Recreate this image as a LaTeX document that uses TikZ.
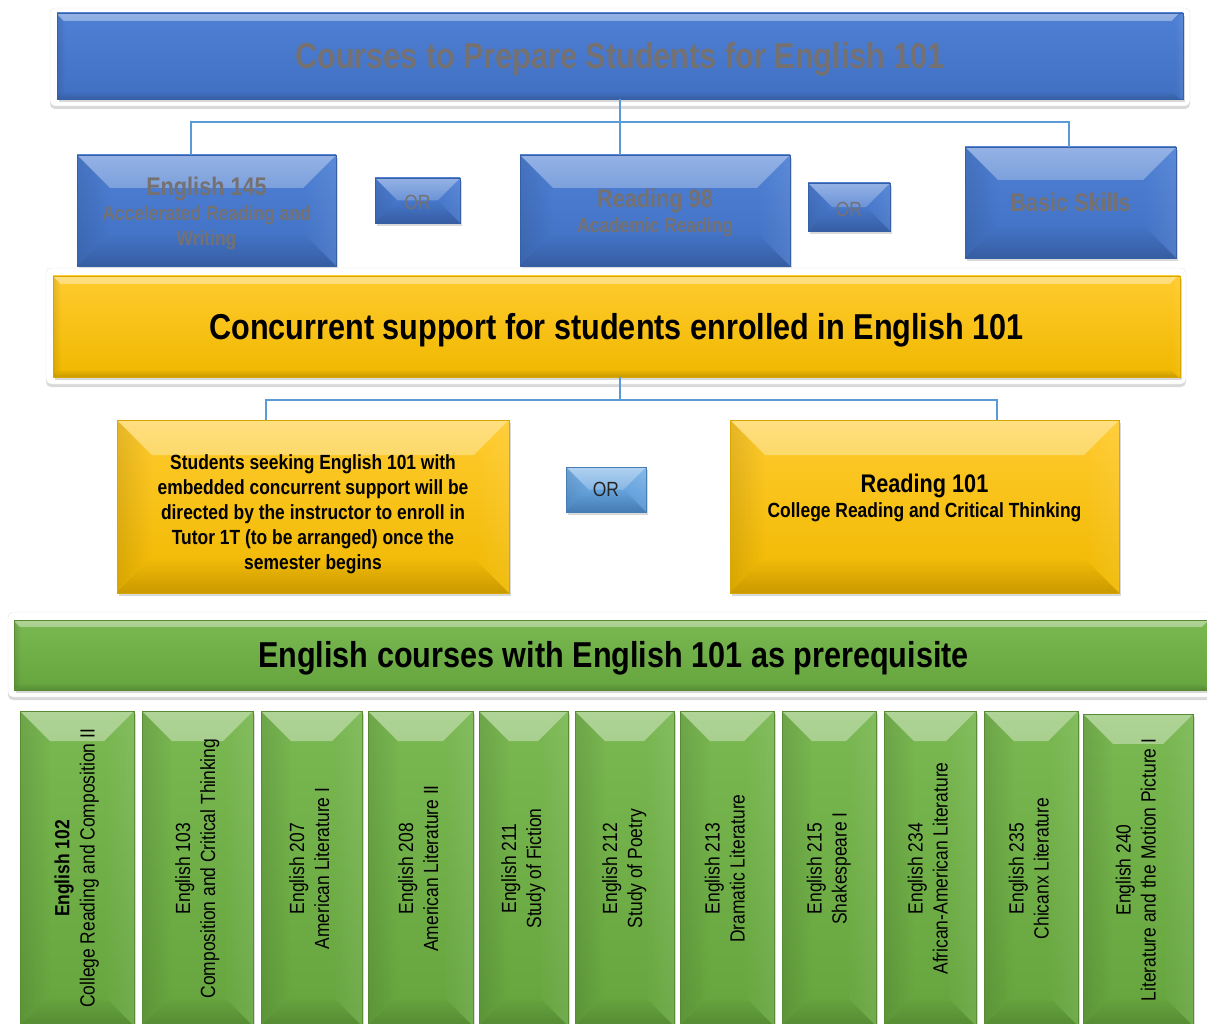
\documentclass[tikz,border=0pt]{standalone}
\usepackage{fontspec}
\setmainfont{Liberation Sans}[FakeStretch=0.85]
\usetikzlibrary{shadows,fadings}
\definecolor{conn}{HTML}{5B9BD5}
\definecolor{btxt}{RGB}{118,113,113}
\definecolor{bluetop}{HTML}{4E80D5}
\definecolor{bluebot}{HTML}{4170C2}
\definecolor{yeltop}{HTML}{FFCB2E}
\definecolor{yelbot}{HTML}{F0B800}
\definecolor{grntop}{HTML}{7AB852}
\definecolor{grnbot}{HTML}{66A53E}
\definecolor{ortop}{HTML}{7DB4E8}
\definecolor{orbot}{HTML}{5294D4}
\newcommand{\fsS}{\fontsize{20.5}{25}\selectfont}
\newcommand{\fsM}{\fontsize{25.5}{28}\selectfont}
\newcommand{\fsL}{\fontsize{36}{40}\selectfont}
\newcommand{\lowerby}[2]{\raisebox{-#1}[\height][\depth]{#2}}
\tikzset{
  bevel/.style={path picture={
    \fill[white,fill opacity=.40,path fading=south] (path picture bounding box.north west) -- (path picture bounding box.north east) -- ([shift={(-#1pt,-#1pt)}]path picture bounding box.north east) -- ([shift={(#1pt,-#1pt)}]path picture bounding box.north west) -- cycle;
    \fill[black,fill opacity=.16,path fading=north] (path picture bounding box.south west) -- (path picture bounding box.south east) -- ([shift={(-#1pt,#1pt)}]path picture bounding box.south east) -- ([shift={(#1pt,#1pt)}]path picture bounding box.south west) -- cycle;
    \fill[black,fill opacity=.10,path fading=east] (path picture bounding box.north west) -- ([shift={(#1pt,-#1pt)}]path picture bounding box.north west) -- ([shift={(#1pt,#1pt)}]path picture bounding box.south west) -- (path picture bounding box.south west) -- cycle;
    \fill[white,fill opacity=.08,path fading=west] (path picture bounding box.north east) -- ([shift={(-#1pt,-#1pt)}]path picture bounding box.north east) -- ([shift={(-#1pt,#1pt)}]path picture bounding box.south east) -- (path picture bounding box.south east) -- cycle;
  }},
  box/.style={draw=#1, line width=0.6pt, inner sep=0pt, align=center,
    drop shadow={shadow xshift=1.5pt,shadow yshift=-3pt,opacity=.3}},
  bluebox/.style={box=bluebot!85!black, top color=bluetop, bottom color=bluebot, text=btxt, font=\fsS\bfseries},
  orbox/.style={box=orbot!85!black, top color=ortop, bottom color=orbot, text=black!85, font=\fsS},
  yelbox/.style={box=yelbot!90!black, top color=yeltop, bottom color=yelbot, text=black, font=\fsS\bfseries},
  grnbox/.style={box=grnbot!85!black, top color=grntop, bottom color=grnbot, text=black, font=\fsS},
  frame/.style={fill=white, draw=black!10, rounded corners=5pt, inner sep=0pt,
    drop shadow={shadow xshift=0pt,shadow yshift=-3pt,opacity=.3}},
  conline/.style={draw=conn, line width=2pt},
}
\begin{document}
\begin{tikzpicture}[x=1pt,y=-1pt]
\useasboundingbox (0,0) rectangle (1207,1024);
% top section
\node[frame, minimum width=1140pt, minimum height=98pt] (f1) at (620,57) {};
\node[bluebox, bevel=8, minimum width=1126pt, minimum height=86pt, font=\fsL\bfseries] (title) at (620,56) {\lowerby{3pt}{Courses to Prepare Students for English 101}};
\node[bluebox, bevel=33, minimum width=259pt, minimum height=111pt] (e145) at (206.5,210.5) {\lowerby{4.5pt}{\begin{tabular}{@{}c@{}}{\fsM English 145}\\Accelerated Reading and\\Writing\end{tabular}}};
\node[bluebox, bevel=22.5, minimum width=85pt, minimum height=45pt, font=\fsS] (or1) at (417.5,200.5) {\lowerby{2pt}{OR}};
\node[bluebox, bevel=33, minimum width=270pt, minimum height=111pt] (r98) at (655,210.5) {\lowerby{4.5pt}{\begin{tabular}{@{}c@{}}{\fsM Reading 98}\\Academic Reading\end{tabular}}};
\node[bluebox, bevel=24, minimum width=82pt, minimum height=48pt, font=\fsS] (or2) at (849,207) {\lowerby{2pt}{OR}};
\node[bluebox, bevel=33, minimum width=211pt, minimum height=111pt, font=\fsM\bfseries] (basic) at (1070.5,202.5) {Basic Skills};
\coordinate (j1) at (620,122);
\draw[conline] (title.south) -- (j1);
\draw[conline] (j1) -| ([xshift=-15.5pt]e145.north);
\draw[conline] (j1) -- ([xshift=-35pt]r98.north);
\draw[conline] (j1) -| ([xshift=-1.5pt]basic.north);
% yellow section
\node[frame, minimum width=1140pt, minimum height=116pt] (f2) at (616,326) {};
\node[yelbox, bevel=8, minimum width=1127pt, minimum height=101pt, font=\fsL\bfseries] (ybar) at (616.5,326.5) {\lowerby{4pt}{Concurrent support for students enrolled in English 101}};
\node[yelbox, bevel=35, minimum width=392pt, minimum height=173pt] (lyel) at (313,506.5) {\lowerby{8pt}{\begin{tabular}{@{}c@{}}Students seeking English 101 with\\embedded concurrent support will be\\directed by the instructor to enroll in\\Tutor 1T (to be arranged) once the\\semester begins\end{tabular}}};
\node[orbox, bevel=22.5, minimum width=80pt, minimum height=45pt] (or3) at (606,489.5) {OR};
\node[yelbox, bevel=35, minimum width=389pt, minimum height=173pt] (ryel) at (924.5,506.5) {\lowerby{-7pt}{\begin{tabular}{@{}c@{}}{\fsM Reading 101}\\College Reading and Critical Thinking\end{tabular}}};
\coordinate (j2) at (620,400);
\draw[conline] ([xshift=3.5pt]ybar.south) -- (j2);
\draw[conline] (j2) -| ([xshift=-47pt]lyel.north);
\draw[conline] (j2) -| ([xshift=72.5pt]ryel.north);
% green section
\node[frame, minimum width=1207pt, minimum height=85pt] (f3) at (611.5,654.5) {};
\node[grnbox, bevel=7, minimum width=1199pt, minimum height=70pt, font=\fsL\bfseries] (gbar) at (613.5,655) {\lowerby{3.5pt}{English courses with English 101 as prerequisite}};
\node[grnbox, bevel=30, minimum width=114pt, minimum height=315pt] (c102) at (77,868.5) {\rotatebox{90}{\begin{tabular}{@{}c@{}}\textbf{English 102}\\College Reading and Composition II\end{tabular}}};
\node[grnbox, bevel=30, minimum width=111pt, minimum height=315pt] (c103) at (197.5,868.5) {\rotatebox{90}{\begin{tabular}{@{}c@{}}English 103\\Composition and Critical Thinking\end{tabular}}};
\node[grnbox, bevel=30, minimum width=101pt, minimum height=315pt] (c207) at (311.5,868.5) {\rotatebox{90}{\begin{tabular}{@{}c@{}}English 207\\American Literature I\end{tabular}}};
\node[grnbox, bevel=30, minimum width=105pt, minimum height=315pt] (c208) at (420.5,868.5) {\rotatebox{90}{\begin{tabular}{@{}c@{}}English 208\\American Literature II\end{tabular}}};
\node[grnbox, bevel=30, minimum width=89pt, minimum height=315pt] (c211) at (523.5,868.5) {\rotatebox{90}{\begin{tabular}{@{}c@{}}English 211\\Study of Fiction\end{tabular}}};
\node[grnbox, bevel=30, minimum width=99pt, minimum height=315pt] (c212) at (624.5,868.5) {\rotatebox{90}{\begin{tabular}{@{}c@{}}English 212\\Study of Poetry\end{tabular}}};
\node[grnbox, bevel=30, minimum width=94pt, minimum height=315pt] (c213) at (727,868.5) {\rotatebox{90}{\begin{tabular}{@{}c@{}}English 213\\Dramatic Literature\end{tabular}}};
\node[grnbox, bevel=30, minimum width=94pt, minimum height=315pt] (c215) at (829,868.5) {\rotatebox{90}{\begin{tabular}{@{}c@{}}English 215\\Shakespeare I\end{tabular}}};
\node[grnbox, bevel=30, minimum width=92pt, minimum height=315pt] (c234) at (930,868.5) {\rotatebox{90}{\begin{tabular}{@{}c@{}}English 234\\African-American Literature\end{tabular}}};
\node[grnbox, bevel=30, minimum width=94pt, minimum height=315pt] (c235) at (1031,868.5) {\rotatebox{90}{\begin{tabular}{@{}c@{}}English 235\\Chicanx Literature\end{tabular}}};
\node[grnbox, bevel=30, minimum width=110pt, minimum height=312pt] (c240) at (1138,870) {\rotatebox{90}{\begin{tabular}{@{}c@{}}English 240\\Literature and the Motion Picture I\end{tabular}}};
\end{tikzpicture}
\end{document}
